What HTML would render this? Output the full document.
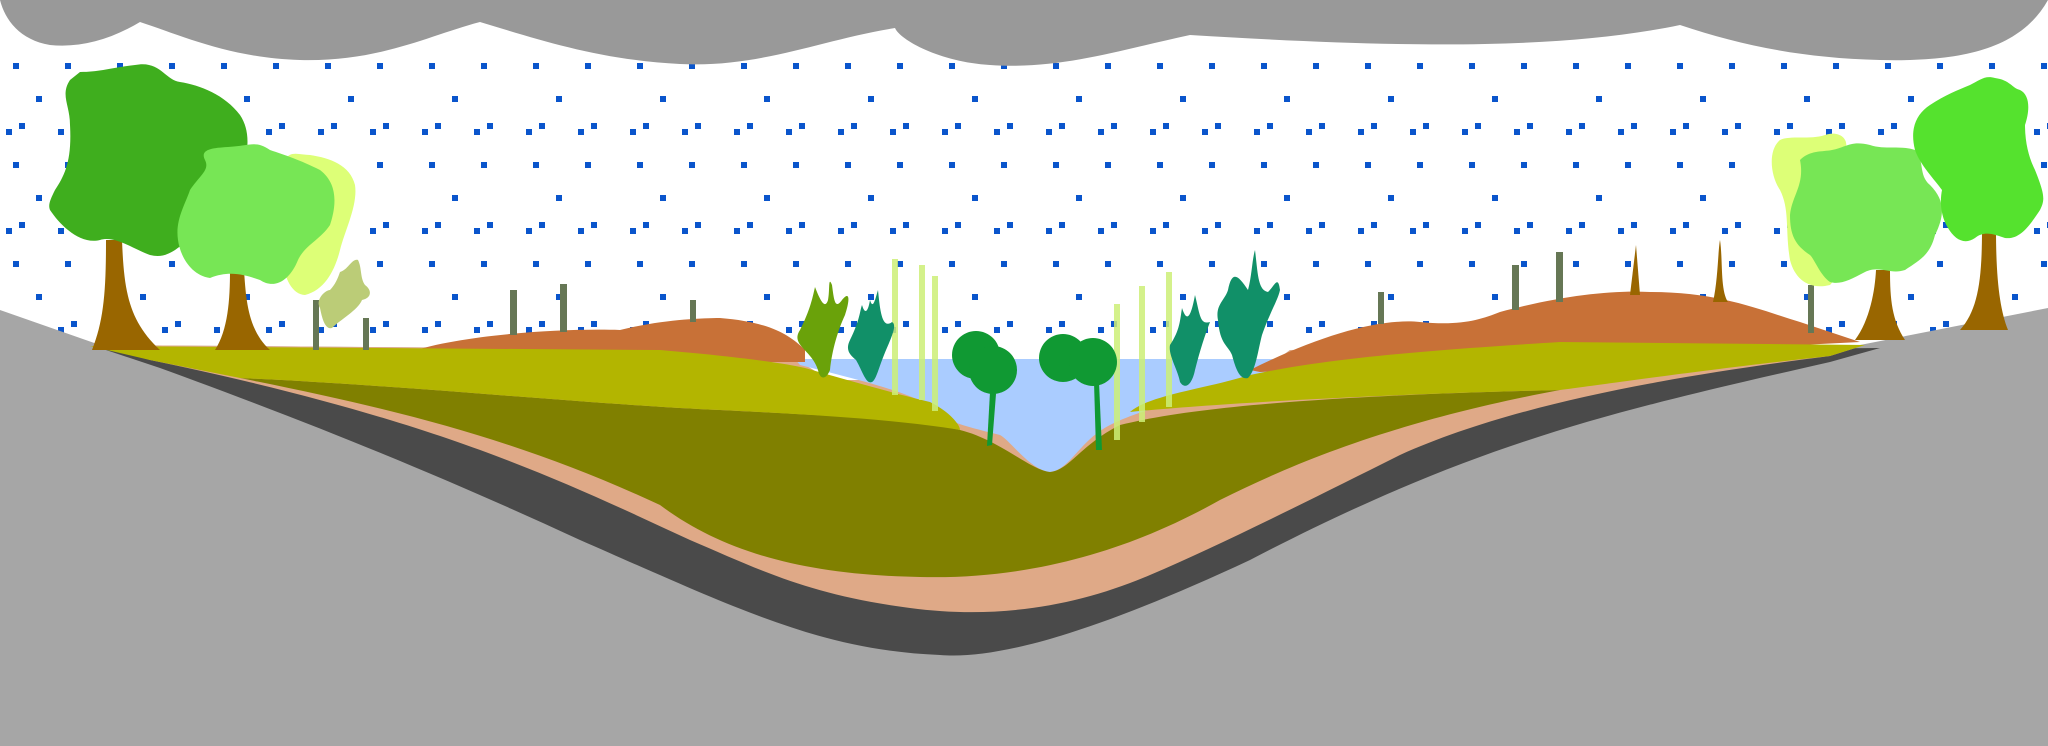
<!DOCTYPE html>
<html><head><meta charset="utf-8"><style>html,body{margin:0;padding:0;background:#fff}svg{display:block}</style></head>
<body>
<svg width="2048" height="746" viewBox="0 0 2048 746" xmlns="http://www.w3.org/2000/svg">
<defs>
<pattern id="rain" width="104" height="99" patternUnits="userSpaceOnUse" x="6" y="24">
<rect x="0" y="6" width="6" height="6" fill="#0a55cc"/>
<rect x="13" y="0" width="6" height="6" fill="#0a55cc"/>
<rect x="52" y="6" width="6" height="6" fill="#0a55cc"/>
<rect x="65" y="0" width="6" height="6" fill="#0a55cc"/>
<rect x="7" y="39" width="6" height="6" fill="#0a55cc"/>
<rect x="59" y="39" width="6" height="6" fill="#0a55cc"/>
<rect x="30" y="72" width="6" height="6" fill="#0a55cc"/>
</pattern>
</defs>
<rect width="2048" height="746" fill="#fff"/>
<rect x="0" y="40" width="2048" height="318" fill="url(#rain)"/>
<!-- clouds -->
<path d="M0,0 L2048,0 L2048,0 C2020,50 1960,62 1880,60 C1800,58 1740,45 1680,25 C1560,50 1400,48 1190,35 C1120,50 1060,70 990,65 C940,62 900,40 895,28 C820,40 760,68 680,64 C600,60 540,40 480,22 C430,35 380,62 300,60 C230,58 180,35 140,22 C110,40 80,48 50,45 C20,40 5,20 0,0 Z" fill="#999"/>
<!-- ground grey -->
<path d="M0,310 L100,345 L780,350 L830,380 L1250,380 L1290,350 L1860,345 L2048,308 L2048,746 L0,746 Z" fill="#a6a6a6"/>
<!-- dark layer -->
<path d="M100,348 L780,352 L830,382 L1250,382 L1290,352 L1880,348 L1830,362 C1620,410 1480,440 1250,560 C1100,630 1000,660 940,655 C820,650 740,610 580,540 C450,480 330,430 160,368 Z" fill="#4a4a4a"/>
<!-- tan -->
<path d="M95,345 L780,350 L830,380 L1250,380 L1290,350 L1865,345 L1830,356 C1640,380 1500,410 1400,455 C1300,505 1220,545 1150,575 C1080,605 1000,620 910,608 C810,595 760,570 690,540 C560,480 440,420 150,360 Z" fill="#dfa987"/>
<!-- water -->
<path d="M795,359 L1285,359 L1240,390 C1180,400 1140,410 1110,425 C1080,440 1070,470 1050,472 C1030,470 1010,440 1000,435 C960,425 940,420 930,405 C900,390 860,380 800,365 Z" fill="#aaccff"/>
<!-- olive -->
<path d="M240,378 C400,385 600,405 720,410 C820,415 920,420 960,430 C1000,440 1030,470 1050,472 C1070,470 1080,445 1120,425 C1200,405 1350,395 1560,390 C1400,420 1300,460 1220,500 C1140,545 1040,580 920,577 C800,575 720,550 660,505 C520,440 400,410 240,378 Z" fill="#808000"/>
<!-- brown hills -->
<path d="M410,352 C460,335 560,328 620,330 C660,320 700,318 720,318 C770,322 790,335 805,350 L805,362 L410,362 Z" fill="#c87137"/>
<path d="M1250,370 C1320,335 1380,318 1420,322 C1460,326 1480,320 1500,312 C1560,296 1610,290 1650,292 C1720,292 1760,310 1800,322 L1860,342 L1260,372 Z" fill="#c87137"/>
<!-- yellow-green left -->
<path d="M90,346 L660,350 C720,355 780,362 805,368 C840,378 900,395 930,402 C950,412 960,425 960,430 C900,420 820,415 720,410 C600,405 400,385 240,378 L150,360 Z" fill="#b3b500"/>
<!-- yellow-green right -->
<path d="M1130,412 C1150,395 1200,390 1250,375 C1320,360 1400,352 1560,342 L1865,345 L1830,356 C1700,370 1600,385 1560,390 C1350,395 1200,405 1130,412 Z" fill="#b3b500"/>
<!-- posts -->
<g fill="#667755">
<rect x="313" y="300" width="6" height="50"/><rect x="363" y="318" width="6" height="32"/>
<rect x="510" y="290" width="7" height="45"/><rect x="560" y="284" width="7" height="48"/>
<rect x="690" y="300" width="6" height="22"/>
<rect x="1378" y="292" width="6" height="32"/><rect x="1512" y="265" width="7" height="45"/>
<rect x="1556" y="252" width="7" height="50"/><rect x="1808" y="285" width="6" height="48"/>
</g>
<path d="M1630,295 L1636,245 L1640,295 Z" fill="#996600"/>
<path d="M1713,302 C1718,280 1718,250 1720,240 C1723,260 1720,290 1728,302 Z" fill="#996600"/>
<!-- reeds -->
<g fill="#ccee77" fill-opacity="0.85">
<rect x="892" y="259" width="6" height="136"/><rect x="919" y="265" width="6" height="135"/>
<rect x="932" y="276" width="6" height="135"/>
<rect x="1114" y="304" width="6" height="136"/><rect x="1139" y="286" width="6" height="136"/>
<rect x="1166" y="272" width="6" height="135"/>
</g>
<!-- aquatic plants -->
<path d="M800,330 C810,310 812,300 815,287 C820,300 825,310 828,300 C830,290 828,275 832,285 C834,300 835,310 842,300 C850,290 850,300 845,315 C838,330 832,350 830,370 C826,380 820,380 818,370 C812,350 790,345 800,330 Z" fill="#6aa20a"/>
<path d="M850,340 C860,320 860,310 862,305 C865,315 868,312 870,300 C873,310 875,300 878,290 C880,310 882,330 892,322 C898,325 890,340 884,355 C878,370 876,380 872,382 C866,385 862,370 856,360 C850,355 845,350 850,340 Z" fill="#119068"/>
<path d="M1170,345 C1180,330 1180,320 1182,308 C1186,320 1190,322 1195,295 C1200,315 1200,325 1210,322 C1205,335 1200,350 1195,370 C1192,385 1185,390 1180,382 C1178,370 1168,355 1170,345 Z" fill="#119068"/>
<path d="M1218,320 C1215,305 1225,300 1228,290 C1232,270 1238,275 1248,290 C1252,275 1252,260 1255,250 C1258,275 1258,290 1268,292 C1275,285 1278,275 1280,290 C1278,300 1270,312 1262,335 C1258,350 1256,370 1248,378 C1240,380 1236,370 1232,355 C1228,345 1220,345 1218,320 Z" fill="#119068"/>
<g fill="#109933">
<circle cx="976" cy="355" r="24"/><circle cx="993" cy="370" r="24"/>
<path d="M994,390 L996,394 L992,445 L987,446 L990,392 Z"/>
<circle cx="1063" cy="358" r="24"/><circle cx="1093" cy="362" r="24"/>
<path d="M1094,380 L1099,382 L1102,450 L1096,450 L1094,382 Z"/>
</g>
<!-- left trees -->
<path d="M92,350 C104,320 106,290 106,240 L122,240 C124,290 128,320 160,350 Z" fill="#996600"/>
<path d="M70,80 C60,95 70,105 70,125 C72,160 65,175 55,190 C50,200 48,205 50,210 C60,225 80,245 100,240 C115,235 135,250 150,255 C170,260 180,245 200,230 L240,180 C250,150 250,130 240,115 C225,95 200,85 180,82 C165,80 160,60 135,65 C110,68 100,72 80,72 Z" fill="#3fae1e"/>
<path d="M215,350 C228,330 230,300 230,270 L244,270 C246,300 248,330 270,350 Z" fill="#996600"/>
<path d="M285,160 C290,150 300,155 310,155 C330,158 350,165 355,185 C358,205 345,230 340,250 C335,270 325,290 305,295 C290,295 280,270 285,250 C290,220 275,190 285,160 Z" fill="#ddff77"/>
<path d="M205,160 C200,150 210,148 228,147 C250,146 255,140 270,150 C285,155 300,160 320,170 C340,185 335,210 330,225 C320,240 305,245 298,260 C290,280 275,290 260,280 C245,275 230,270 210,278 C190,275 180,255 178,240 C175,220 185,205 190,190 C200,175 210,170 205,160 Z" fill="#77e655"/>
<path d="M340,282 C348,280 352,268 358,270 C362,278 360,288 365,295 C372,300 372,308 362,310 C358,320 340,330 332,338 C325,340 322,328 320,318 C315,310 325,300 330,300 C335,295 338,288 340,282 Z" fill="#bbcc77" transform="translate(0,-10)"/>
<!-- right trees -->
<path d="M1855,340 C1870,320 1875,290 1876,270 L1890,270 C1890,300 1892,320 1905,340 Z" fill="#996600"/>
<path d="M1960,330 C1978,310 1982,280 1982,230 L1996,230 C1996,280 2000,310 2008,330 Z" fill="#996600"/>
<path d="M1780,140 C1790,135 1810,140 1825,135 C1840,130 1850,140 1845,150 C1842,170 1835,190 1840,210 C1845,240 1845,270 1830,285 C1810,290 1795,280 1790,260 C1785,230 1790,210 1780,190 C1770,175 1768,150 1780,140 Z" fill="#ddff77"/>
<path d="M1800,160 C1810,150 1822,152 1832,150 C1845,148 1850,140 1870,145 C1885,150 1900,145 1915,150 C1925,160 1918,175 1930,185 C1945,200 1945,215 1935,235 C1930,255 1920,260 1905,270 C1890,275 1880,265 1865,272 C1850,280 1840,285 1830,282 C1820,275 1815,260 1810,255 C1795,245 1790,235 1790,215 C1792,195 1805,185 1800,160 Z" fill="#77e655"/>
<path d="M1970,85 C1980,80 1985,75 1995,78 C2010,80 2012,88 2020,90 C2030,95 2030,110 2025,125 C2025,145 2030,160 2035,170 C2045,195 2045,200 2040,210 C2030,225 2020,240 2005,238 C1995,235 1985,230 1975,238 C1965,245 1955,240 1948,228 C1940,215 1940,200 1942,190 C1935,180 1920,165 1915,150 C1910,130 1915,115 1930,105 C1945,95 1958,90 1970,85 Z" fill="#55e22e"/>
</svg>
</body></html>
